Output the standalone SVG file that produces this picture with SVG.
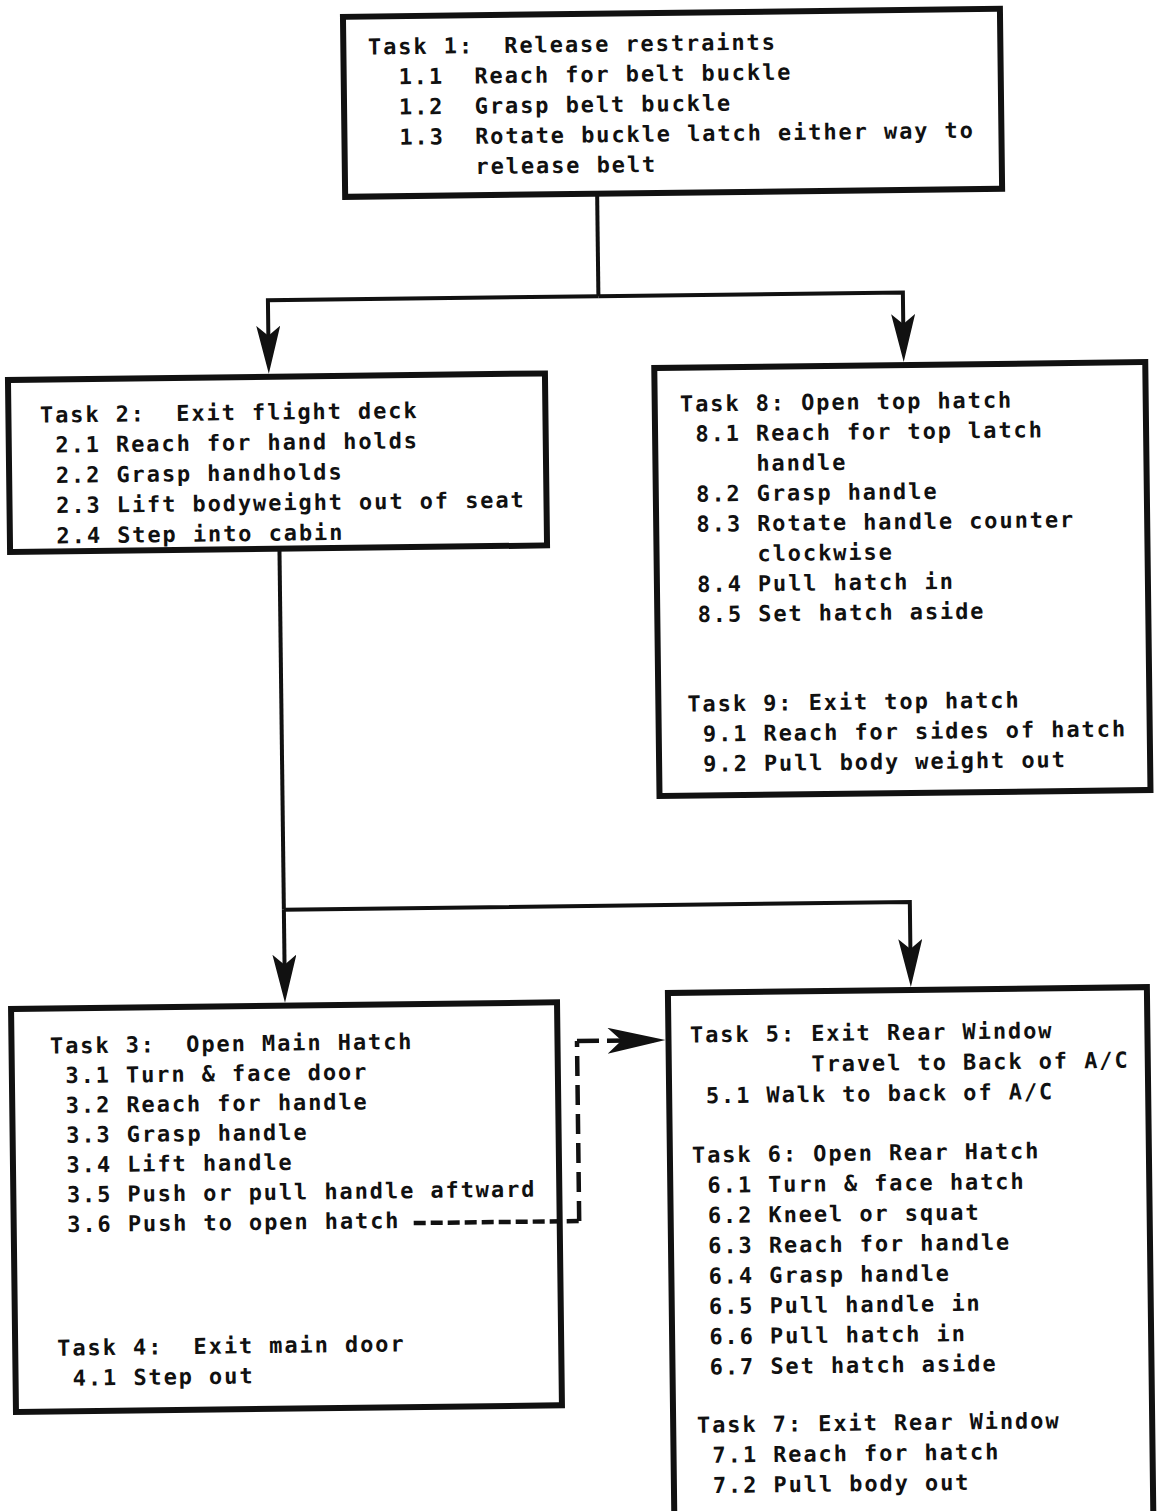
<svg xmlns="http://www.w3.org/2000/svg" width="1162" height="1511" viewBox="0 0 1162 1511" xml:space="preserve">
<style>
.box{fill:#fff;stroke:#111;stroke-width:6}
.ln{fill:none;stroke:#111;stroke-width:4;stroke-linejoin:miter}
.dash{fill:none;stroke:#111;stroke-width:4.5}
.t{font-family:"DejaVu Sans Mono","Liberation Mono",monospace;font-weight:bold;font-size:22px;letter-spacing:1.9px;fill:#111;white-space:pre}
</style>
<defs>
<marker id="ah" markerUnits="userSpaceOnUse" viewBox="0 0 48 24" markerWidth="48" markerHeight="24" refX="36" refY="12" orient="auto">
<path d="M0,0 L48,12 L0,24 L10,12 Z" fill="#111"/>
</marker>
<marker id="ah2" markerUnits="userSpaceOnUse" viewBox="0 0 58 26" markerWidth="58" markerHeight="26" refX="46" refY="13" orient="auto">
<path d="M0,0 L58,13 L0,26 L14,13 Z" fill="#111"/>
</marker>
</defs>
<rect width="1162" height="1511" fill="#fff"/>
<g id="diagram" transform="rotate(-0.7 581 755)">
<g id="task1">
<rect class="box" x="352" y="14" width="657" height="180"/>
<text class="t" x="376.6" y="52">Task 1:  Release restraints</text>
<text class="t" x="376.6" y="82.2">  1.1  Reach for belt buckle</text>
<text class="t" x="376.6" y="112.4">  1.2  Grasp belt buckle</text>
<text class="t" x="376.6" y="142.6">  1.3  Rotate buckle latch either way to</text>
<text class="t" x="376.6" y="172.8">       release belt</text>
</g>
<g id="task2">
<rect class="box" x="12.6" y="373" width="537" height="172"/>
<text class="t" x="44.1" y="416">Task 2:  Exit flight deck</text>
<text class="t" x="44.1" y="446.2"> 2.1 Reach for hand holds</text>
<text class="t" x="44.1" y="476.5"> 2.2 Grasp handholds</text>
<text class="t" x="44.1" y="506.7"> 2.3 Lift bodyweight out of seat</text>
<text class="t" x="44.1" y="537"> 2.4 Step into cabin</text>
</g>
<g id="task8-9">
<rect class="box" x="659" y="369" width="491" height="428"/>
<text class="t" x="684.2" y="412.8">Task 8: Open top hatch</text>
<text class="t" x="684.2" y="442.9"> 8.1 Reach for top latch</text>
<text class="t" x="684.2" y="473">     handle</text>
<text class="t" x="684.2" y="503.1"> 8.2 Grasp handle</text>
<text class="t" x="684.2" y="533.2"> 8.3 Rotate handle counter</text>
<text class="t" x="684.2" y="563.3">     clockwise</text>
<text class="t" x="684.2" y="593.4"> 8.4 Pull hatch in</text>
<text class="t" x="684.2" y="623.5"> 8.5 Set hatch aside</text>
<text class="t" x="688" y="712.9">Task 9: Exit top hatch</text>
<text class="t" x="688" y="743"> 9.1 Reach for sides of hatch</text>
<text class="t" x="688" y="773.1"> 9.2 Pull body weight out</text>
</g>
<g id="task3-4">
<rect class="box" x="8" y="1002" width="546" height="403"/>
<text class="t" x="46.4" y="1047">Task 3:  Open Main Hatch</text>
<text class="t" x="46.4" y="1076.8"> 3.1 Turn &amp; face door</text>
<text class="t" x="46.4" y="1106.6"> 3.2 Reach for handle</text>
<text class="t" x="46.4" y="1136.4"> 3.3 Grasp handle</text>
<text class="t" x="46.4" y="1166.2"> 3.4 Lift handle</text>
<text class="t" x="46.4" y="1196"> 3.5 Push or pull handle aftward</text>
<text class="t" x="46.4" y="1225.8"> 3.6 Push to open hatch</text>
<text class="t" x="50" y="1349.2">Task 4:  Exit main door</text>
<text class="t" x="50" y="1379.4"> 4.1 Step out</text>
</g>
<g id="task5-7">
<rect class="box" x="665" y="994" width="479" height="560"/>
<text class="t" x="686.5" y="1043.8">Task 5: Exit Rear Window</text>
<text class="t" x="686.5" y="1074.3">        Travel to Back of A/C</text>
<text class="t" x="686.5" y="1104.8"> 5.1 Walk to back of A/C</text>
<text class="t" x="687.1" y="1164">Task 6: Open Rear Hatch</text>
<text class="t" x="687.1" y="1194.3"> 6.1 Turn &amp; face hatch</text>
<text class="t" x="687.1" y="1224.6"> 6.2 Kneel or squat</text>
<text class="t" x="687.1" y="1254.9"> 6.3 Reach for handle</text>
<text class="t" x="687.1" y="1285.2"> 6.4 Grasp handle</text>
<text class="t" x="687.1" y="1315.5"> 6.5 Pull handle in</text>
<text class="t" x="687.1" y="1345.8"> 6.6 Pull hatch in</text>
<text class="t" x="687.1" y="1376.1"> 6.7 Set hatch aside</text>
<text class="t" x="688.8" y="1434">Task 7: Exit Rear Window</text>
<text class="t" x="688.8" y="1464.3"> 7.1 Reach for hatch</text>
<text class="t" x="688.8" y="1494.6"> 7.2 Pull body out</text>
</g>
<g id="connectors">
<path class="ln" d="M604 194 V296.5"/>
<path class="ln" d="M604 296.5 H273.5 V358" marker-end="url(#ah)"/>
<path class="ln" d="M604 296.5 H908.5 V354" marker-end="url(#ah)"/>
<path class="ln" d="M282 545 V906"/>
<path class="ln" d="M282 906 V987" marker-end="url(#ah)"/>
<path class="ln" d="M282 906 H908 V979" marker-end="url(#ah)"/>
<path class="dash" d="M408 1221 H573.5" stroke-dasharray="12 5"/>
<path class="dash" d="M573.5 1221 V1041" stroke-dasharray="20 9"/>
<path class="dash" d="M573.5 1041 H650" stroke-dasharray="22 8" marker-end="url(#ah2)"/>
</g>
</g>
</svg>
